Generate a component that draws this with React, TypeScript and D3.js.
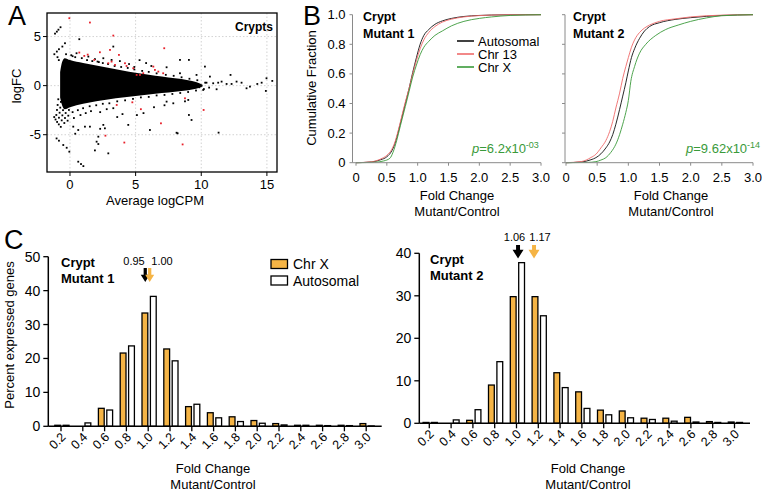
import React from "react";
import * as d3 from "d3";

const FONT = "Liberation Sans, Arial, Helvetica, sans-serif";

// ---------------- Panel A data (MA plot) ----------------
const maBlobX = [-0.75, -0.6, -0.4, 0, 1, 2, 3, 4, 5, 6, 7, 8, 9, 9.6, 10.1];
const maBlobUpper = [1.4, 2.4, 2.8, 2.6, 2.3, 2.05, 1.8, 1.55, 1.32, 1.12, 0.93, 0.75, 0.56, 0.38, 0.1];
const maBlobLower = [-1.2, -2.0, -2.4, -2.2, -1.85, -1.6, -1.4, -1.22, -1.05, -0.9, -0.76, -0.62, -0.48, -0.33, -0.1];
const maBlackPoints: [number, number][] = [
  [-1.14, 5.3], [-1.0, 5.5], [-0.88, 5.7], [-0.72, 5.95], [0.71, 4.73], [-0.38, 4.32],
  [-1.19, 3.2], [-1.0, 3.47], [-0.84, 3.71], [-0.58, 3.98], [-0.95, 2.9], [-0.85, 2.6],
  [0.2, 3.0], [0.5, 3.3], [1.4, 2.96], [1.9, 2.7], [2.54, 2.79], [3.17, 2.62], [3.3, 3.98],
  [2.2, 2.4], [3.8, 2.5], [4.5, 2.2], [5.3, 2.6], [5.8, 2.3], [6.2, 2.0], [4.9, 1.9],
  [8.38, 2.62], [9.06, 2.62], [10.28, 1.94], [12.23, 1.09], [7.36, 1.87], [8.38, 1.26],
  [9.64, 1.09], [10.66, 0.92], [10.91, 0.24], [11.29, 0.3], [11.55, 0.41], [11.93, 0.17],
  [12.31, 0.17], [12.69, 0.41], [13.07, 0.3], [13.45, -0.27], [13.71, -0.1], [14.27, 0.17],
  [14.6, 0.3], [14.97, 0.75], [14.92, -0.54], [15.41, 0.48], [11.17, -0.37], [10.15, -0.44],
  [9.85, -0.17], [10.4, 0.3], [10.6, -0.2],
  [-0.3, 3.2], [0.1, 3.1], [0.4, 2.9], [0.9, 2.8], [1.3, 2.6], [1.7, 2.5], [2.1, 2.45],
  [2.5, 2.3], [2.9, 2.2], [3.4, 2.0], [3.9, 1.9], [4.4, 1.8], [4.9, 1.65], [5.5, 1.5],
  [6.0, 1.4], [6.6, 1.25], [7.3, 1.1], [7.9, 1.0], [8.5, 0.85], [9.1, 0.7], [9.7, 0.55], [10.3, 0.3],
  [0.2, -2.7], [0.6, -2.5], [1.0, -2.3], [1.5, -2.1], [2.0, -2.0], [2.5, -1.85], [3.0, -1.8],
  [3.6, -1.6], [4.2, -1.5], [4.8, -1.35], [5.4, -1.2], [6.0, -1.15], [6.6, -1.0], [7.2, -0.95],
  [7.8, -0.85], [8.4, -0.75], [9.0, -0.65], [9.6, -0.5], [10.2, -0.35],
  [-0.89, -1.39], [-0.69, -1.66], [-0.48, -1.94], [-0.28, -2.21], [-0.08, -2.48],
  [-0.94, -1.97], [-0.74, -2.24], [-0.53, -2.5], [-0.33, -2.79], [-0.13, -3.06],
  [-0.99, -2.48], [-0.79, -2.76], [-0.58, -3.03], [-0.38, -3.3], [-0.18, -3.57],
  [-1.04, -2.99], [-0.84, -3.27], [-0.63, -3.54], [-0.43, -3.81],
  [-1.2, -3.2], [-1.1, -3.45], [-0.98, -3.7], [-0.85, -3.95], [-0.7, -4.2],
  [-1.02, -5.38], [-0.84, -5.61], [-0.51, -6.05], [-0.25, -6.33], [-0.05, -6.73],
  [0.63, -7.75], [0.84, -7.99], [1.02, -8.2], [0.25, -4.18], [0.63, -4.52], [0.4, -4.9],
  [0.3, -3.3], [0.8, -3.0], [1.2, -2.8], [1.6, -2.6], [2.3, -2.7], [2.8, -2.4], [3.3, -2.3],
  [2.03, -5.71], [2.16, -5.95], [2.92, -6.9], [2.16, -5.2], [1.14, -4.18], [1.52, -4.18],
  [2.54, -4.0], [2.66, -4.35], [2.3, -4.4], [1.9, -6.6], [3.6, -3.2], [4.0, -2.9],
  [4.44, -4.0], [5.1, -3.0], [5.6, -2.8], [6.09, -4.52], [6.4, -2.2], [7.2, -2.0],
  [8.76, -1.6], [9.01, -1.46], [7.87, -1.8], [7.36, -1.63], [9.06, -2.99], [9.26, -3.5],
  [8.2, -4.86], [11.32, -4.79], [8.12, -4.8],
];
const maRedPoints: [number, number][] = [
  [-0.05, 6.87], [1.52, 6.43], [3.3, 5.1], [7.18, 3.81], [0.71, 3.37], [1.09, 3.03],
  [1.35, 3.16], [1.85, 2.62], [2.92, 2.28], [3.17, 2.45], [3.43, 2.11], [3.73, 3.13],
  [3.05, 3.64], [2.28, 3.4], [4.19, 2.28], [4.31, 2.0], [4.82, 1.77], [5.08, 1.09],
  [5.33, 1.09], [5.58, 1.26], [6.35, 1.94], [6.47, 1.6], [6.73, 1.43], [7.1, 1.26],
  [3.56, -1.97], [5.4, -2.4], [2.7, -5.1], [4.14, -5.8], [4.75, -1.7], [6.93, -3.84],
  [8.76, -1.29], [10.18, -2.48], [8.58, -5.99],
];
const maXTicks = [0, 5, 10, 15];
const maYTicks = [-5, 0, 5];

// ---------------- Panel B data (cumulative fractions) ----------------
const cdfTicksX = [0, 0.5, 1, 1.5, 2, 2.5, 3];
const cdfTickLabelsX = ["0", "0.5", "1.0", "1.5", "2.0", "2.5", "3.0"];
const cdfTicksY = [0, 0.2, 0.4, 0.6, 0.8, 1];
const cdfTickLabelsY = ["0", "0.2", "0.4", "0.6", "0.8", "1.0"];

const m1AutoX = [0, 0.25, 0.4, 0.5, 0.58, 0.64, 0.68, 0.74, 0.8, 0.86, 0.92, 0.98, 1.04, 1.1, 1.18, 1.28, 1.4, 1.55, 1.75, 2.0, 2.4, 3.0];
const m1AutoY = [0, 0.005, 0.02, 0.04, 0.08, 0.14, 0.2, 0.3, 0.4, 0.5, 0.61, 0.71, 0.8, 0.86, 0.9, 0.935, 0.958, 0.975, 0.988, 0.995, 0.999, 1];
const m1Chr13X = [0, 0.25, 0.4, 0.5, 0.58, 0.64, 0.68, 0.74, 0.8, 0.86, 0.92, 0.98, 1.04, 1.1, 1.18, 1.28, 1.4, 1.55, 1.75, 2.0, 2.4, 3.0];
const m1Chr13Y = [0, 0.006, 0.025, 0.05, 0.09, 0.15, 0.21, 0.31, 0.41, 0.5, 0.6, 0.69, 0.77, 0.83, 0.88, 0.92, 0.95, 0.97, 0.985, 0.994, 0.999, 1];
const m1ChrXX = [0, 0.3, 0.45, 0.55, 0.6, 0.66, 0.72, 0.8, 0.86, 0.92, 0.98, 1.04, 1.1, 1.18, 1.28, 1.4, 1.55, 1.75, 2.0, 2.2, 2.5, 3.0];
const m1ChrXY = [0, 0.003, 0.012, 0.03, 0.07, 0.15, 0.25, 0.38, 0.48, 0.58, 0.66, 0.73, 0.78, 0.82, 0.86, 0.89, 0.925, 0.955, 0.975, 0.985, 0.995, 1];

const m2AutoX = [0, 0.25, 0.4, 0.48, 0.56, 0.64, 0.7, 0.75, 0.8, 0.86, 0.91, 0.96, 1.0, 1.05, 1.1, 1.18, 1.26, 1.34, 1.5, 1.75, 2.0, 2.5, 3.0];
const m2AutoY = [0, 0.005, 0.02, 0.034, 0.06, 0.1, 0.14, 0.19, 0.26, 0.36, 0.45, 0.54, 0.62, 0.71, 0.77, 0.84, 0.89, 0.92, 0.946, 0.968, 0.98, 0.995, 1];
const m2Chr13X = [0, 0.25, 0.4, 0.48, 0.56, 0.64, 0.7, 0.75, 0.8, 0.86, 0.91, 0.96, 1.0, 1.05, 1.1, 1.18, 1.26, 1.34, 1.5, 1.75, 2.0, 2.5, 3.0];
const m2Chr13Y = [0, 0.008, 0.035, 0.057, 0.1, 0.15, 0.21, 0.28, 0.37, 0.47, 0.57, 0.65, 0.71, 0.78, 0.83, 0.88, 0.91, 0.93, 0.955, 0.972, 0.985, 0.997, 1];
const m2ChrXX = [0, 0.35, 0.48, 0.56, 0.64, 0.72, 0.8, 0.86, 0.91, 0.96, 1.0, 1.04, 1.1, 1.18, 1.28, 1.44, 1.6, 1.8, 2.0, 2.25, 2.5, 3.0];
const m2ChrXY = [0, 0.002, 0.007, 0.018, 0.034, 0.07, 0.125, 0.19, 0.26, 0.34, 0.42, 0.55, 0.65, 0.74, 0.8, 0.86, 0.9, 0.93, 0.955, 0.978, 0.993, 1];

const cdfSeriesNames = ["Autosomal", "Chr 13", "Chr X"];
const cdfColors = ["#111111", "#ef6a6a", "#3a9a3a"];

// ---------------- Panel C data (histograms) ----------------
const foldCategories = ["0.2", "0.4", "0.6", "0.8", "1.0", "1.2", "1.4", "1.6", "1.8", "2.0", "2.2", "2.4", "2.6", "2.8", "3.0"];
const m1ChrX = [0.3, 0, 5.3, 21.6, 33.4, 22.8, 5.8, 4.0, 2.8, 1.7, 0.8, 0.3, 0.3, 0.3, 0.8];
const m1Auto = [0.3, 1.0, 4.8, 23.7, 38.3, 19.3, 6.5, 2.5, 1.4, 0.9, 0.4, 0.3, 0.2, 0.2, 0.1];
const m2ChrX = [0.2, 0, 0.7, 9.0, 29.8, 29.8, 11.9, 7.4, 3.1, 2.9, 1.2, 1.2, 1.4, 0.4, 0.3];
const m2Auto = [0.2, 0.8, 3.2, 14.5, 37.8, 25.3, 8.4, 3.5, 2.0, 1.3, 0.9, 0.5, 0.3, 0.2, 0.2];
const m1Medians = [0.95, 1.0];
const m2Medians = [1.06, 1.17];
const m1MedianLabels = ["0.95", "1.00"];
const m2MedianLabels = ["1.06", "1.17"];
const histTicks1 = [0, 10, 20, 30, 40, 50];
const histTicks2 = [0, 10, 20, 30, 40];
const histLegend = ["Chr X", "Autosomal"];
const ORANGE = "#f5b445";

function PanelA() {
  const x = d3.scaleLinear().domain([-1.75, 15.77]).range([47, 277]);
  const y = d3.scaleLinear().domain([-8.8, 7.4]).range([172, 13]);
  const area = d3
    .area<number>()
    .x((_, i) => x(maBlobX[i]))
    .y0((_, i) => y(maBlobLower[i]))
    .y1((_, i) => y(maBlobUpper[i]))
    .curve(d3.curveMonotoneX);
  return (
    <g>
      <text x={8} y={25} fontSize={27} fontFamily={FONT}>A</text>
      {maXTicks.map((t) => (
        <line key={"gx" + t} x1={x(t)} x2={x(t)} y1={13} y2={172} stroke="#c8c8c8" strokeWidth={0.8} strokeDasharray="1.5,2" />
      ))}
      {maYTicks.map((t) => (
        <line key={"gy" + t} x1={47} x2={277} y1={y(t)} y2={y(t)} stroke="#c8c8c8" strokeWidth={0.8} strokeDasharray="1.5,2" />
      ))}
      <path d={area(maBlobX) || ""} fill="#000" />
      {maBlackPoints.map((p, i) => (
        <rect key={"b" + i} x={x(p[0]) - 0.9} y={y(p[1]) - 0.9} width={1.8} height={1.8} fill="#000" />
      ))}
      {maRedPoints.map((p, i) => (
        <rect key={"r" + i} x={x(p[0]) - 0.9} y={y(p[1]) - 0.9} width={1.8} height={1.8} fill="#e8202a" />
      ))}
      <rect x={47} y={13} width={230} height={159} fill="none" stroke="#000" strokeWidth={1.3} />
      {maXTicks.map((t) => (
        <g key={"tx" + t}>
          <line x1={x(t)} x2={x(t)} y1={172} y2={176} stroke="#000" />
          <text x={x(t)} y={189} fontSize={13} textAnchor="middle" fontFamily={FONT}>{t}</text>
        </g>
      ))}
      {maYTicks.map((t) => (
        <g key={"ty" + t}>
          <line x1={43} x2={47} y1={y(t)} y2={y(t)} stroke="#000" />
          <text x={41} y={y(t) + 4.5} fontSize={13} textAnchor="end" fontFamily={FONT}>{t}</text>
        </g>
      ))}
      <text x={155} y={205} fontSize={13} textAnchor="middle" fontFamily={FONT}>Average logCPM</text>
      <text transform="translate(21,86) rotate(-90)" fontSize={13} textAnchor="middle" fontFamily={FONT}>logFC</text>
      <text x={273} y={31} fontSize={12} fontWeight="bold" textAnchor="end" fontFamily={FONT}>Crypts</text>
    </g>
  );
}

function CdfPanel(props: {
  x0: number; x1: number; axisX: number; xs: number[][]; ys: number[][];
  yLabels: boolean; title2: string; pText: string; pExp: string; pX: number; fcX: number;
}) {
  const x = d3.scaleLinear().domain([0, 3]).range([props.x0, props.x1]);
  const y = d3.scaleLinear().domain([0, 1]).range([162.7, 14.7]);
  const axisColor = "#8a8a8a";
  return (
    <g>
      {props.xs.map((xs, k) => {
        const line = d3
          .line<number>()
          .x((_, i) => x(xs[i]))
          .y((_, i) => y(props.ys[k][i]))
          .curve(d3.curveMonotoneX);
        return <path key={k} d={line(xs) || ""} fill="none" stroke={cdfColors[k]} strokeWidth={0.9} />;
      })}
      <line x1={props.axisX} x2={props.axisX} y1={y(1)} y2={y(0)} stroke={axisColor} strokeWidth={1} />
      <line x1={props.axisX} x2={x(3)} y1={y(0)} y2={y(0)} stroke={axisColor} strokeWidth={1} />
      {cdfTicksY.map((t, i) => (
        <g key={"y" + t}>
          <line x1={props.axisX - 3} x2={props.axisX} y1={y(t)} y2={y(t)} stroke={axisColor} />
          {props.yLabels && (
            <text x={props.axisX - 7} y={y(t) + 4.5} fontSize={13} textAnchor="end" fontFamily={FONT}>
              {cdfTickLabelsY[i]}
            </text>
          )}
        </g>
      ))}
      {cdfTicksX.map((t, i) => (
        <g key={"x" + t}>
          <line x1={x(t)} x2={x(t)} y1={y(0)} y2={y(0) + 3} stroke={axisColor} />
          <text x={x(t)} y={182} fontSize={13} textAnchor="middle" fontFamily={FONT}>{cdfTickLabelsX[i]}</text>
        </g>
      ))}
      <text x={props.fcX} y={200} fontSize={13} textAnchor="middle" fontFamily={FONT}>Fold Change</text>
      <text x={props.fcX} y={216} fontSize={13} textAnchor="middle" fontFamily={FONT}>Mutant/Control</text>
      <text x={x(0) + 7} y={21} fontSize={12.5} fontWeight="bold" fontFamily={FONT}>Crypt</text>
      <text x={x(0) + 7} y={38} fontSize={12.5} fontWeight="bold" fontFamily={FONT}>{props.title2}</text>
      <text x={props.pX} y={153} fontSize={13} fill="#3a9a3a" fontFamily={FONT}>
        <tspan fontStyle="italic">p</tspan>
        <tspan>{props.pText}</tspan>
        <tspan dy={-5} fontSize={9}>{props.pExp}</tspan>
      </text>
    </g>
  );
}

function arrowPath(cx: number, top: number, tip: number, w: number) {
  const headH = w * 0.8;
  const sw = w * 0.18;
  return `M${cx - sw},${top} L${cx + sw},${top} L${cx + sw},${tip - headH} L${cx + w / 2},${tip - headH} L${cx},${tip} L${cx - w / 2},${tip - headH} L${cx - sw},${tip - headH} Z`;
}

function HistPanel(props: {
  axisX: number; axisY: number; topY: number; maxV: number; ticks: number[];
  first: number; last: number; axisEnd: number; chrX: number[]; auto: number[];
  medians: number[]; medianLabels: string[]; labelXs: number[]; labelY: number;
  arrowXs: number[]; arrowTop: number; arrowTip: number; arrowW: number;
  title2: string; titleX: number; titleY: number; fcX: number;
}) {
  const x = d3.scalePoint<string>().domain(foldCategories).range([props.first, props.last]);
  const y = d3.scaleLinear().domain([0, props.maxV]).range([props.axisY, props.topY]);
  const bw = 5.8;
  return (
    <g>
      {foldCategories.map((c, i) => (
        <g key={c}>
          <rect x={(x(c) as number) - bw - 0.4} y={y(props.chrX[i])} width={bw} height={props.axisY - y(props.chrX[i])}
            fill={ORANGE} stroke="#000" strokeWidth={1.3} />
          <rect x={(x(c) as number) + 2.2} y={y(props.auto[i])} width={bw} height={props.axisY - y(props.auto[i])}
            fill="#fff" stroke="#000" strokeWidth={1.3} />
        </g>
      ))}
      <line x1={props.axisX} x2={props.axisX} y1={props.topY} y2={props.axisY} stroke="#000" strokeWidth={1.5} />
      <line x1={props.axisX} x2={props.axisEnd} y1={props.axisY} y2={props.axisY} stroke="#000" strokeWidth={1.5} />
      {props.ticks.map((t) => (
        <g key={"t" + t}>
          <line x1={props.axisX - 5} x2={props.axisX} y1={y(t)} y2={y(t)} stroke="#000" strokeWidth={1.3} />
          <text x={props.axisX - 8} y={y(t) + 5} fontSize={14} textAnchor="end" fontFamily={FONT}>{t}</text>
        </g>
      ))}
      {foldCategories.map((c) => (
        <g key={"xt" + c}>
          <line x1={x(c)} x2={x(c)} y1={props.axisY} y2={props.axisY + 5} stroke="#000" strokeWidth={1.3} />
          <text transform={`translate(${(x(c) as number) + 5.5},${props.axisY + 11.5}) rotate(-45)`} fontSize={12.5}
            textAnchor="end" fontFamily={FONT}>{c}</text>
        </g>
      ))}
      {props.medianLabels.map((l, i) => (
        <text key={"ml" + i} x={props.labelXs[i]} y={props.labelY} fontSize={11} textAnchor="middle" fontFamily={FONT}>{l}</text>
      ))}
      <path d={arrowPath(props.arrowXs[0], props.arrowTop, props.arrowTip, props.arrowW)} fill="#000" />
      <path d={arrowPath(props.arrowXs[1], props.arrowTop, props.arrowTip, props.arrowW)} fill={ORANGE} />
      <text x={props.titleX} y={props.titleY} fontSize={13} fontWeight="bold" fontFamily={FONT}>Crypt</text>
      <text x={props.titleX} y={props.titleY + 15.5} fontSize={13} fontWeight="bold" fontFamily={FONT}>{props.title2}</text>
      <text x={props.fcX} y={473} fontSize={13} textAnchor="middle" fontFamily={FONT}>Fold Change</text>
      <text x={props.fcX} y={489} fontSize={13} textAnchor="middle" fontFamily={FONT}>Mutant/Control</text>
    </g>
  );
}

export default function App() {
  // arrow x positions derived from median values on a linear fold-change scale
  const fc1 = d3.scaleLinear().domain([0.2, 3.0]).range([61, 366.2]);
  const fc2 = d3.scaleLinear().domain([0.2, 3.0]).range([429.3, 734.5]);
  return (
    <svg width={762} height={493} style={{ position: "absolute", left: 0, top: 0, background: "#fff" }}>
      <PanelA />
      <text x={303} y={25} fontSize={27} fontFamily={FONT}>B</text>
      <text transform="translate(316,88) rotate(-90)" fontSize={13} textAnchor="middle" fontFamily={FONT}>Cumulative Fraction</text>
      <CdfPanel x0={356} x1={541} axisX={352.5} xs={[m1AutoX, m1Chr13X, m1ChrXX]} ys={[m1AutoY, m1Chr13Y, m1ChrXY]}
        yLabels={true} title2="Mutant 1" pText="=6.2x10" pExp="-03" pX={472} fcX={457} />
      <CdfPanel x0={566} x1={753} axisX={565} xs={[m2AutoX, m2Chr13X, m2ChrXX]} ys={[m2AutoY, m2Chr13Y, m2ChrXY]}
        yLabels={false} title2="Mutant 2" pText="=9.62x10" pExp="-14" pX={686} fcX={671} />
      {cdfSeriesNames.map((n, i) => (
        <g key={n}>
          <line x1={457} x2={474} y1={41 + i * 13} y2={41 + i * 13} stroke={cdfColors[i]} strokeWidth={1.6} />
          <text x={478} y={45.5 + i * 13} fontSize={13} fontFamily={FONT}>{n}</text>
        </g>
      ))}

      <text x={4} y={249} fontSize={27} fontFamily={FONT}>C</text>
      <text transform="translate(14,335) rotate(-90)" fontSize={13} textAnchor="middle" fontFamily={FONT}>Percent expressed genes</text>
      <HistPanel axisX={48.3} axisY={426.3} topY={256.7} maxV={50} ticks={histTicks1} first={61} last={366.2} axisEnd={381.7}
        chrX={m1ChrX} auto={m1Auto} medians={m1Medians} medianLabels={m1MedianLabels} labelXs={[134, 162]} labelY={265}
        arrowXs={[fc1(m1Medians[0]) + 2.5, fc1(m1Medians[1]) + 1.5]} arrowTop={268} arrowTip={282} arrowW={9}
        title2="Mutant 1" titleX={61} titleY={267} fcX={213} />
      <HistPanel axisX={419.3} axisY={423.3} topY={253.3} maxV={40} ticks={histTicks2} first={429.3} last={734.5} axisEnd={750}
        chrX={m2ChrX} auto={m2Auto} medians={m2Medians} medianLabels={m2MedianLabels} labelXs={[514.5, 540]} labelY={241}
        arrowXs={[fc2(m2Medians[0]) - 5, fc2(m2Medians[1]) - 1]} arrowTop={245} arrowTip={258.5} arrowW={11}
        title2="Mutant 2" titleX={430} titleY={264} fcX={588} />
      {histLegend.map((n, i) => (
        <g key={n}>
          <rect x={271} y={259.5 + i * 16.5} width={16.5} height={9} fill={i === 0 ? ORANGE : "#fff"} stroke="#000" strokeWidth={1.3} />
          <text x={293} y={269 + i * 16.5} fontSize={14} fontFamily={FONT}>{n}</text>
        </g>
      ))}
    </svg>
  );
}
